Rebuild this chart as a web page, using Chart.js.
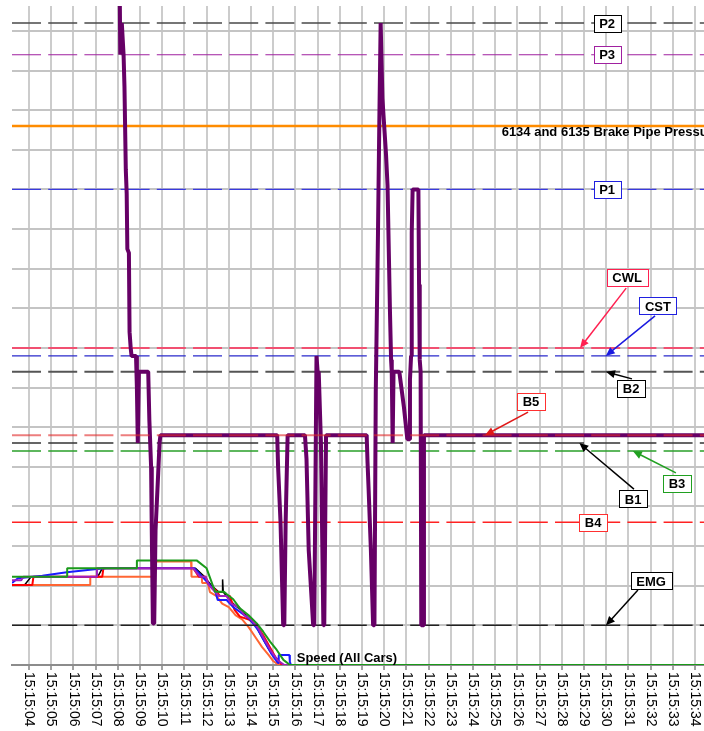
<!DOCTYPE html>
<html><head><meta charset="utf-8">
<script src="https://cdn.jsdelivr.net/npm/chart.js@4/dist/chart.umd.min.js"></script>
<style>html,body{margin:0;padding:0;background:#fff;}canvas{display:block;}</style>
</head><body>
<canvas id="c" width="704" height="731"></canvas>
<script>
// ---------- DATA ----------
const tickStart = 4; // seconds past 15:15:00 of first label
const tickLabels = ['15:15:04','15:15:05','15:15:06','15:15:07','15:15:08','15:15:09','15:15:10','15:15:11','15:15:12','15:15:13','15:15:14','15:15:15','15:15:16','15:15:17','15:15:18','15:15:19','15:15:20','15:15:21','15:15:22','15:15:23','15:15:24','15:15:25','15:15:26','15:15:27','15:15:28','15:15:29','15:15:30','15:15:31','15:15:32','15:15:33','15:15:34'];
const xRange = [3.234, 34.405];
const yRange = [0, 166.3];

const refNames  = ['P2','P3','P1','CWL','CST','B2','B5','B1','B3','B4','EMG'];
const refValues = [162, 154, 120, 80, 78, 74, 58, 56, 54, 36, 10];
const pipePressure = 136; // 6134 and 6135 Brake Pipe Pressure

// thick purple trace [time s, value]
const brakeTrace = [[8.08,175],[8.11,154],[8.18,162],[8.26,154],[8.30,146],[8.36,125],[8.40,119],[8.43,105],[8.50,104],[8.53,84],[8.58,80],[8.62,78],[8.82,78],[8.86,70],[8.90,56],[8.95,74],[9.37,74],[9.42,62],[9.50,50],[9.53,34],[9.58,10.5],[9.64,10.5],[9.70,34],[9.82,48.5],[9.88,56],[9.92,58],
[15.18,58],[15.22,50],[15.33,36],[15.45,10],[15.50,10],[15.56,36],[15.65,58],
[16.43,58],[16.50,52],[16.60,29],[16.80,10],[16.85,10],[16.95,78],[17.00,74],[17.05,74],[17.15,56],[17.26,10],[17.30,10],[17.38,58],
[19.21,58],[19.25,51],[19.30,44],[19.40,29],[19.50,10],[19.56,10],[19.62,69],[19.72,109],[19.78,137],[19.84,162],[19.92,143],[20.00,136],[20.08,129],[20.15,121],[20.26,89],[20.31,77],[20.34,74],[20.38,56],[20.42,74],[20.68,74],[20.89,65],[21.04,57],[21.13,57],[21.16,72],[21.21,78],[21.24,109],[21.28,120],[21.54,120],[21.57,96],[21.60,77],[21.64,74],[21.67,10],[21.76,10],[21.79,58],[34.405,58]];

// speed traces (all cars)
const speedGreen  = [[3.234,22.3],[5.72,22.3],[5.72,24.4],[8.86,24.4],[8.86,26.4],[11.55,26.4],[12.0,24.4],[12.38,18.5],[12.78,18.5],[12.9,17.9],[13.2,16.6],[13.5,14.3],[13.88,12.6],[14.26,10.5],[14.55,8.4],[14.86,5.9],[15.16,3.8],[15.46,1.3],[15.76,0],[34.405,0]];
const speedPurple = [[3.234,21.4],[3.65,21.4],[3.75,22.3],[7.05,22.3],[7.06,24.4],[11.4,24.4],[11.7,22.3],[11.95,22.3],[12.1,20.2],[12.3,19],[12.55,17.4],[12.9,17.4],[13.1,15.5],[13.45,14.6],[13.7,12.6],[14.0,11.5],[14.3,9.5],[14.6,6.5],[14.9,3.5],[15.2,1.2],[15.5,0],[34.405,0]];
const speedOrange = [[3.234,20.2],[6.75,20.2],[6.76,22.3],[9.6,22.3],[9.62,26.1],[11.3,26.1],[11.32,22.3],[11.78,22.3],[11.8,20.7],[12.05,20.7],[12.15,18.4],[12.45,17.4],[12.7,15.5],[13.0,14.6],[13.3,12.6],[13.6,11.5],[13.9,9.5],[14.2,7],[14.5,4.5],[14.8,2.5],[15.0,1.0],[15.25,0],[34.405,0]];
const speedRed    = [[3.234,20.2],[4.15,20.2],[4.2,22.3],[7.3,22.3],[7.35,24.4],[11.4,24.4],[11.65,22.3],[11.95,22.3],[12.1,20.2],[12.4,19],[12.6,17.4],[13.05,17.4],[13.25,14],[13.5,12.2],[13.9,11.5],[14.25,10],[14.55,7.5],[14.85,4.5],[15.15,1.5],[15.4,0],[34.405,0]];
const speedBlue   = [[3.234,20.7],[3.5,21.9],[4.6,22.5],[5.7,23.4],[7.06,24.2],[7.5,24.4],[11.45,24.4],[11.8,22.3],[12.1,20.5],[12.4,18.4],[12.5,16.4],[12.9,16.4],[13.2,14.6],[13.6,13],[13.95,11.5],[14.3,9],[14.6,6],[14.9,3],[15.15,1],[15.23,0.5],[15.25,2.5],[15.73,2.5],[15.75,0.8],[15.8,0],[34.405,0]];
const speedBlack  = [[3.234,20.2],[3.8,20.2],[4.1,22.3],[7.1,22.3],[7.3,24.4],[11.5,24.4],[11.9,22.3],[12.2,20.2],[12.55,18.4],[12.7,18.4],[12.72,21.6],[12.75,18.4],[13.1,16],[13.5,14],[13.8,12.5],[14.2,10],[14.5,7],[14.8,4],[15.1,1.5],[15.16,1.8],[15.2,0],[34.405,0]];

// ---------- STYLES ----------
const refStyle = {
  P2:{color:'#4a4a4a',width:1.5,box:'#000000'},
  P3:{color:'#a020a0',width:1.2,box:'#a020a0'},
  P1:{color:'#3a3ae0',width:1.2,box:'#2020e0'},
  CWL:{color:'#ff2a55',width:1.5,box:'#ff2050'},
  CST:{color:'#2a2acc',width:1.2,box:'#2020e0'},
  B2:{color:'#555555',width:2,box:'#000000'},
  B5:{color:'rgba(225,40,40,0.6)',width:2,box:'#ff3030'},
  B1:{color:'#333333',width:1.5,box:'#000000'},
  B3:{color:'#2aa02a',width:1.5,box:'#20a020'},
  B4:{color:'#ff2222',width:1.5,box:'#ff3030'},
  EMG:{color:'#222222',width:1.5,box:'#000000'}
};
// label placement in data coordinates
const labelPlace = {
  P2:{box:[30.04,162]}, P3:{box:[30.04,154]}, P1:{box:[30.04,120]},
  CWL:{box:[30.94,97.7],tail:[30.90,95.1],tip:[28.82,80],arrow:'#ff2050'},
  CST:{box:[32.33,90.6],tail:[32.20,88.1],tip:[29.98,78],arrow:'#1a1ae0'},
  B2:{box:[31.12,69.7],tail:[31.16,72.2],tip:[29.99,74],arrow:'#000000'},
  B5:{box:[26.61,66.4],tail:[26.48,63.8],tip:[24.54,58],arrow:'#e01818'},
  B1:{box:[31.21,41.9],tail:[31.25,44.4],tip:[28.79,56],arrow:'#000000'},
  B3:{box:[33.19,45.9],tail:[33.14,48.5],tip:[31.2,54],arrow:'#20a020'},
  B4:{box:[29.41,36]},
  EMG:{box:[32.02,21.2],tail:[31.43,18.9],tip:[29.99,10],arrow:'#000000'}
};
const textLabels = [
  {text:'6134 and 6135 Brake Pipe Pressure', at:[25.29,134.5]},
  {text:'Speed (All Cars)', at:[16.06,1.6]}
];

// ---------- BUILD ----------
const pts = a => a.map(p => ({x:p[0], y:p[1]}));
const hline = v => [{x:xRange[0],y:v},{x:xRange[1],y:v}];
const base = {pointRadius:0, pointHoverRadius:0, fill:false, tension:0, borderJoinStyle:'bevel'};
const datasets = [];
const refDs = (i) => {
  const n = refNames[i], s = refStyle[n];
  return Object.assign({}, base, {label:n, data:hline(refValues[i]), borderColor:s.color, borderWidth:s.width, borderDash:[29,7.2]});
};
// top-most first
datasets.push(refDs(refNames.indexOf('B5')));
datasets.push(Object.assign({}, base, {label:'trace', data:pts(brakeTrace), borderColor:'#660066', borderWidth:4}));
refNames.forEach((n,i) => { if (n !== 'B5') datasets.push(refDs(i)); });
datasets.push(Object.assign({}, base, {label:'pipe', data:hline(pipePressure), borderColor:'#ff8c00', borderWidth:2.5}));
datasets.push(Object.assign({}, base, {label:'sG', data:pts(speedGreen), borderColor:'#1a9a1a', borderWidth:2}));
datasets.push(Object.assign({}, base, {label:'sP', data:pts(speedPurple), borderColor:'#a020c0', borderWidth:2}));
datasets.push(Object.assign({}, base, {label:'sB', data:pts(speedBlue), borderColor:'#1a1aff', borderWidth:2}));
datasets.push(Object.assign({}, base, {label:'sR', data:pts(speedRed), borderColor:'#ff0000', borderWidth:2}));
datasets.push(Object.assign({}, base, {label:'sO', data:pts(speedOrange), borderColor:'#ff6633', borderWidth:2}));
datasets.push(Object.assign({}, base, {label:'sK', data:pts(speedBlack), borderColor:'#000000', borderWidth:1.5}));

const FONT_B = 'bold 13px "Liberation Sans", Arial, sans-serif';
const overlay = {
  id:'overlay',
  afterDraw(chart){
    const {ctx, chartArea} = chart;
    const xs = chart.scales.x, ys = chart.scales.y;
    const P = p => [xs.getPixelForValue(p[0]), ys.getPixelForValue(p[1])];
    ctx.save();
    // rotated tick labels (clockwise)
    ctx.font = '14px "Liberation Sans", Arial, sans-serif';
    ctx.fillStyle = '#000'; ctx.textAlign = 'left'; ctx.textBaseline = 'middle';
    xs.ticks.forEach(t => {
      const lbl = tickLabels[Math.round(t.value - tickStart)];
      if (!lbl) return;
      const px = xs.getPixelForValue(t.value);
      ctx.save(); ctx.translate(px, chartArea.bottom + 7); ctx.rotate(Math.PI/2); ctx.fillText(lbl, 0, 0); ctx.restore();
    });
    // free text labels
    ctx.font = FONT_B;
    textLabels.forEach(l => { const [px,py] = P(l.at); ctx.fillText(l.text, px, py); });
    // arrows
    refNames.forEach(n => {
      const lp = labelPlace[n]; if (!lp || !lp.tip) return;
      const [x0,y0] = P(lp.tail), [x1,y1] = P(lp.tip);
      const ang = Math.atan2(y1-y0, x1-x0), L = 9, W = 4;
      ctx.strokeStyle = lp.arrow; ctx.fillStyle = lp.arrow; ctx.lineWidth = 1.5;
      ctx.beginPath(); ctx.moveTo(x0,y0); ctx.lineTo(x1 - Math.cos(ang)*L*0.8, y1 - Math.sin(ang)*L*0.8); ctx.stroke();
      ctx.beginPath();
      ctx.moveTo(x1,y1);
      ctx.lineTo(x1 - Math.cos(ang)*L + Math.sin(ang)*W, y1 - Math.sin(ang)*L - Math.cos(ang)*W);
      ctx.lineTo(x1 - Math.cos(ang)*L - Math.sin(ang)*W, y1 - Math.sin(ang)*L + Math.cos(ang)*W);
      ctx.closePath(); ctx.fill();
    });
    // boxes
    ctx.font = FONT_B; ctx.textAlign = 'center'; ctx.textBaseline = 'middle';
    refNames.forEach(n => {
      const lp = labelPlace[n]; if (!lp) return;
      const [cx,cy] = P(lp.box);
      const w = Math.round(ctx.measureText(n).width + 11), h = 17;
      const bx = Math.round(cx - w/2) + 0.5, by = Math.round(cy - h/2) + 0.5;
      ctx.fillStyle = '#fff'; ctx.fillRect(bx, by, w, h);
      ctx.strokeStyle = refStyle[n].box; ctx.lineWidth = 1; ctx.strokeRect(bx, by, w, h);
      ctx.fillStyle = '#000'; ctx.fillText(n, cx, cy + 1);
    });
    ctx.restore();
  }
};

new Chart(document.getElementById('c'), {
  type:'line',
  data:{datasets},
  options:{
    responsive:false, animation:false, devicePixelRatio:1,
    layout:{padding:{left:12, top:6, right:0, bottom:61}},
    plugins:{legend:{display:false}, tooltip:{enabled:false}},
    events:[],
    scales:{
      x:{type:'linear', min:xRange[0], max:xRange[1],
         ticks:{stepSize:1, includeBounds:false, display:false, autoSkip:false},
         grid:{color:'#cccccc', lineWidth:2, drawTicks:true, tickLength:5, tickColor:'#444444', tickWidth:1},
         border:{display:true, color:'#8c8c8c', width:2}},
      y:{type:'linear', min:yRange[0], max:yRange[1],
         ticks:{stepSize:10, includeBounds:false, display:false},
         grid:{color:'#c4c4c4', lineWidth:2, drawTicks:false},
         border:{display:false}}
    }
  },
  plugins:[overlay]
});
</script>
</body></html>
